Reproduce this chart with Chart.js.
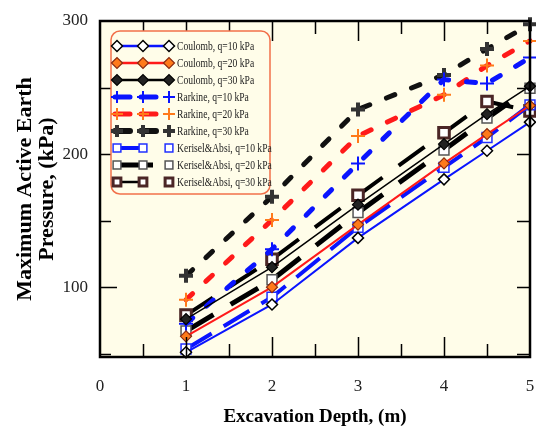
<!DOCTYPE html>
<html>
<head>
<meta charset="utf-8">
<script src="https://cdn.jsdelivr.net/npm/chart.js@4.4.1/dist/chart.umd.min.js"></script>
<style>
  html, body { margin: 0; padding: 0; background: #ffffff; }
  #wrap { width: 536px; height: 430px; }
</style>
</head>
<body>
<div id="wrap"><canvas id="c" width="536" height="430"></canvas></div>
<script>
// Excavation depth (m) and maximum active earth pressure (kPa) per method and surcharge
const depths = [1, 2, 3, 4, 4.5, 5];
const coulomb10 = [51, 87, 137, 181, 202.5, 224];
const coulomb20 = [63, 100, 147, 193, 215, 236.5];
const coulomb30 = [76, 115, 162, 207.5, 230, 251];
const rankine10 = [72.5, 128.5, 193, 256, 253, 272.5];
const rankine20 = [90.5, 150.5, 213.5, 244.5, 266.5, 285];
const rankine30 = [108.5, 168, 233.5, 259.5, 279, 297.5];
const kerisel10 = [53.5, 92.5, 145, 190, 212.5, 237];
const kerisel20 = [67, 105.5, 156, 203, 227, 249.5];
const kerisel30 = [79, 121, 169, 216, 239.5, 232.5];

const seriesLabels = [
  'Coulomb, q=10 kPa', 'Coulomb, q=20 kPa', 'Coulomb, q=30 kPa',
  'Rarkine, q=10 kPa', 'Rarkine, q=20 kPa', 'Rarkine, q=30 kPa',
  'Kerisel&Absi, q=10 kPa', 'Kerisel&Absi, q=20 kPa', 'Kerisel&Absi, q=30 kPa'
];
const xTickValues = [0, 1, 2, 3, 4, 5];
const xMinorTicks = [0.5, 1, 1.5, 2, 2.5, 3, 3.5, 4, 4.5];
const yTickValues = [100, 200, 300];
const yMinorTicks = [50, 100, 150, 200, 250];

const BLUE = '#0a14ff', RED = '#ff1a1a', ORANGE = '#ff7a1a', BLACK = '#000000';
const SERIF = "'Liberation Serif', 'Times New Roman', serif";

function series(label, values, style) {
  return Object.assign({
    label: label,
    data: depths.map((d, i) => ({ x: d, y: values[i] })),
    tension: 0,
    fill: false,
    clip: 10,
    pointRotation: 0
  }, style);
}

const datasets = [
  series(seriesLabels[0], coulomb10, {
    borderColor: BLUE, borderWidth: 2,
    pointStyle: 'rectRot', pointRadius: 5.5, pointBackgroundColor: '#ffffff',
    pointBorderColor: '#000000', pointBorderWidth: 1.5,
    sample: { from: 117, to: 169, width: 2.5 }
  }),
  series(seriesLabels[1], coulomb20, {
    borderColor: RED, borderWidth: 2,
    pointStyle: 'rectRot', pointRadius: 5.5, pointBackgroundColor: ORANGE,
    pointBorderColor: '#8a2a10', pointBorderWidth: 1.2,
    sample: { from: 117, to: 169, width: 2.5 }
  }),
  series(seriesLabels[2], coulomb30, {
    borderColor: BLACK, borderWidth: 1.5,
    pointStyle: 'rectRot', pointRadius: 5.5, pointBackgroundColor: '#222222',
    pointBorderColor: '#000000', pointBorderWidth: 1.2,
    sample: { from: 117, to: 169, width: 2.5 }
  }),
  series(seriesLabels[3], rankine10, {
    borderColor: BLUE, borderWidth: 5, borderDash: [9, 18], borderCapStyle: 'round',
    pointStyle: 'cross', pointRadius: 7, pointBorderColor: BLUE, pointBorderWidth: 2,
    sample: { from: 115, to: 156, width: 5, dash: [15, 11] }
  }),
  series(seriesLabels[4], rankine20, {
    borderColor: RED, borderWidth: 5, borderDash: [9, 18], borderCapStyle: 'round',
    pointStyle: 'cross', pointRadius: 7, pointBorderColor: ORANGE, pointBorderWidth: 2,
    sample: { from: 115, to: 156, width: 5, dash: [15, 11] }
  }),
  series(seriesLabels[5], rankine30, {
    borderColor: '#111111', borderWidth: 5, borderDash: [9, 18], borderCapStyle: 'round',
    pointStyle: 'cross', pointRadius: 7, pointBorderColor: '#333333', pointBorderWidth: 4,
    sample: { from: 115, to: 156, width: 6, dash: [15, 11] }
  }),
  series(seriesLabels[6], kerisel10, {
    borderColor: BLUE, borderWidth: 4, borderDash: [30, 14],
    pointStyle: 'rect', pointRadius: 7, pointBackgroundColor: '#ffffff',
    pointBorderColor: '#2030ff', pointBorderWidth: 1.5,
    sample: { from: 117, to: 143, width: 4 }
  }),
  series(seriesLabels[7], kerisel20, {
    borderColor: BLACK, borderWidth: 5, borderDash: [32, 20],
    pointStyle: 'rect', pointRadius: 7, pointBackgroundColor: '#ffffff',
    pointBorderColor: '#555555', pointBorderWidth: 1.5,
    sample: { from: 114, to: 153, width: 5 }
  }),
  series(seriesLabels[8], kerisel30, {
    borderColor: BLACK, borderWidth: 4, borderDash: [32, 20],
    pointStyle: 'rect', pointRadius: 7.5, pointBackgroundColor: '#ffffff',
    pointBorderColor: '#4b2626', pointBorderWidth: 3,
    sample: { from: 117, to: 143, width: 2.5 }
  })
];

// Cream plot area
const plotBackground = {
  id: 'plotBackground',
  beforeDatasetsDraw(chart) {
    const { ctx, chartArea: a } = chart;
    ctx.save();
    ctx.fillStyle = '#fffde9';
    ctx.fillRect(a.left, a.top, a.right - a.left, a.bottom - a.top);
    ctx.restore();
  }
};

// Box frame with inward tick marks on all four sides
const frameTicks = {
  id: 'frameTicks',
  afterDatasetsDraw(chart) {
    const { ctx, chartArea: a, scales } = chart;
    ctx.save();
    ctx.strokeStyle = '#000';
    ctx.lineWidth = 1.5;
    ctx.setLineDash([]);
    ctx.beginPath();
    xMinorTicks.forEach(v => {
      const px = Math.round(scales.x.getPixelForValue(v)) + 0.5;
      const len = Number.isInteger(v) ? 20 : 13;
      ctx.moveTo(px, a.bottom); ctx.lineTo(px, a.bottom - len);
      ctx.moveTo(px, a.top); ctx.lineTo(px, a.top + len);
    });
    yMinorTicks.forEach(v => {
      const py = Math.round(scales.y.getPixelForValue(v)) + 0.5;
      const len = v % 100 === 0 ? 17 : 11;
      ctx.moveTo(a.left, py); ctx.lineTo(a.left + len, py);
      ctx.moveTo(a.right, py); ctx.lineTo(a.right - 13, py);
    });
    ctx.stroke();
    ctx.lineWidth = 2.5;
    ctx.strokeRect(a.left, a.top, a.right - a.left, a.bottom - a.top);
    ctx.restore();
  }
};

// Boxed legend with line samples and three markers per entry
const boxedLegend = {
  id: 'boxedLegend',
  afterDraw(chart) {
    const ctx = chart.ctx;
    const box = { x: 111, y: 31, w: 159, h: 163, r: 9 };
    ctx.save();
    ctx.beginPath();
    ctx.roundRect(box.x, box.y, box.w, box.h, box.r);
    ctx.fillStyle = '#fffde9';
    ctx.fill();
    ctx.strokeStyle = '#f2704a';
    ctx.lineWidth = 1.5;
    ctx.stroke();

    const markerX = [117, 143, 169];
    chart.data.datasets.forEach((ds, i) => {
      const y = 46 + i * 17;
      const s = ds.sample;
      ctx.save();
      ctx.strokeStyle = ds.borderColor;
      ctx.lineWidth = s.width;
      ctx.lineCap = s.dash ? 'round' : 'butt';
      ctx.setLineDash(s.dash || []);
      ctx.beginPath();
      ctx.moveTo(s.from, y);
      ctx.lineTo(s.to, y);
      ctx.stroke();
      ctx.setLineDash([]);
      ctx.lineCap = 'butt';
      markerX.forEach(mx => {
        ctx.fillStyle = ds.pointBackgroundColor || ds.pointBorderColor;
        ctx.strokeStyle = ds.pointBorderColor;
        ctx.lineWidth = ds.pointBorderWidth;
        Chart.helpers.drawPoint(ctx, {
          pointStyle: ds.pointStyle, rotation: 0,
          radius: ds.pointStyle === 'cross' ? 6 : 5.5,
          borderWidth: ds.pointBorderWidth
        }, mx, y);
      });
      ctx.restore();

      ctx.save();
      ctx.translate(177, y);
      ctx.scale(0.8, 1);
      ctx.font = '12px ' + SERIF;
      ctx.fillStyle = '#222';
      ctx.textBaseline = 'middle';
      ctx.fillText(ds.label, 0, 1);
      ctx.restore();
    });
    ctx.restore();
  }
};

const tickFont = { family: SERIF, size: 17 };

function noEdgePadding(s) {
  s.paddingLeft = 0; s.paddingRight = 0; s.paddingTop = 0; s.paddingBottom = 0;
}

new Chart(document.getElementById('c').getContext('2d'), {
  type: 'line',
  data: { datasets: datasets },
  options: {
    responsive: false,
    animation: false,
    devicePixelRatio: 1,
    layout: { autoPadding: false, padding: { top: 21, right: 6, left: 0, bottom: 0 } },
    plugins: { legend: { display: false }, tooltip: { enabled: false } },
    scales: {
      x: {
        type: 'linear', min: 0, max: 5,
        grid: { display: false, drawTicks: false },
        border: { display: false },
        afterBuildTicks: s => { s.ticks = xTickValues.map(v => ({ value: v })); },
        afterFit: s => { s.height = 73; noEdgePadding(s); },
        ticks: { padding: 19, font: tickFont, color: '#222', maxRotation: 0, autoSkip: false },
        title: {
          display: true, text: 'Excavation Depth, (m)', color: '#000',
          font: { family: SERIF, size: 19, weight: 'bold', lineHeight: 1.2 },
          padding: { top: 0, bottom: 2 }
        }
      },
      y: {
        type: 'linear', min: 47.5, max: 300,
        grid: { display: false, drawTicks: false },
        border: { display: false },
        afterBuildTicks: s => { s.ticks = yTickValues.map(v => ({ value: v })); },
        afterFit: s => { s.width = 100; noEdgePadding(s); },
        ticks: { padding: 12, font: tickFont, color: '#222', autoSkip: false },
        title: {
          display: true, text: ['Maximum Active Earth', 'Pressure, (kPa)'], color: '#000',
          font: { family: SERIF, size: 22, weight: 'bold', lineHeight: 0.97 },
          padding: { top: 15, bottom: 0 }
        }
      }
    }
  },
  plugins: [plotBackground, frameTicks, boxedLegend]
});
</script>
</body>
</html>
